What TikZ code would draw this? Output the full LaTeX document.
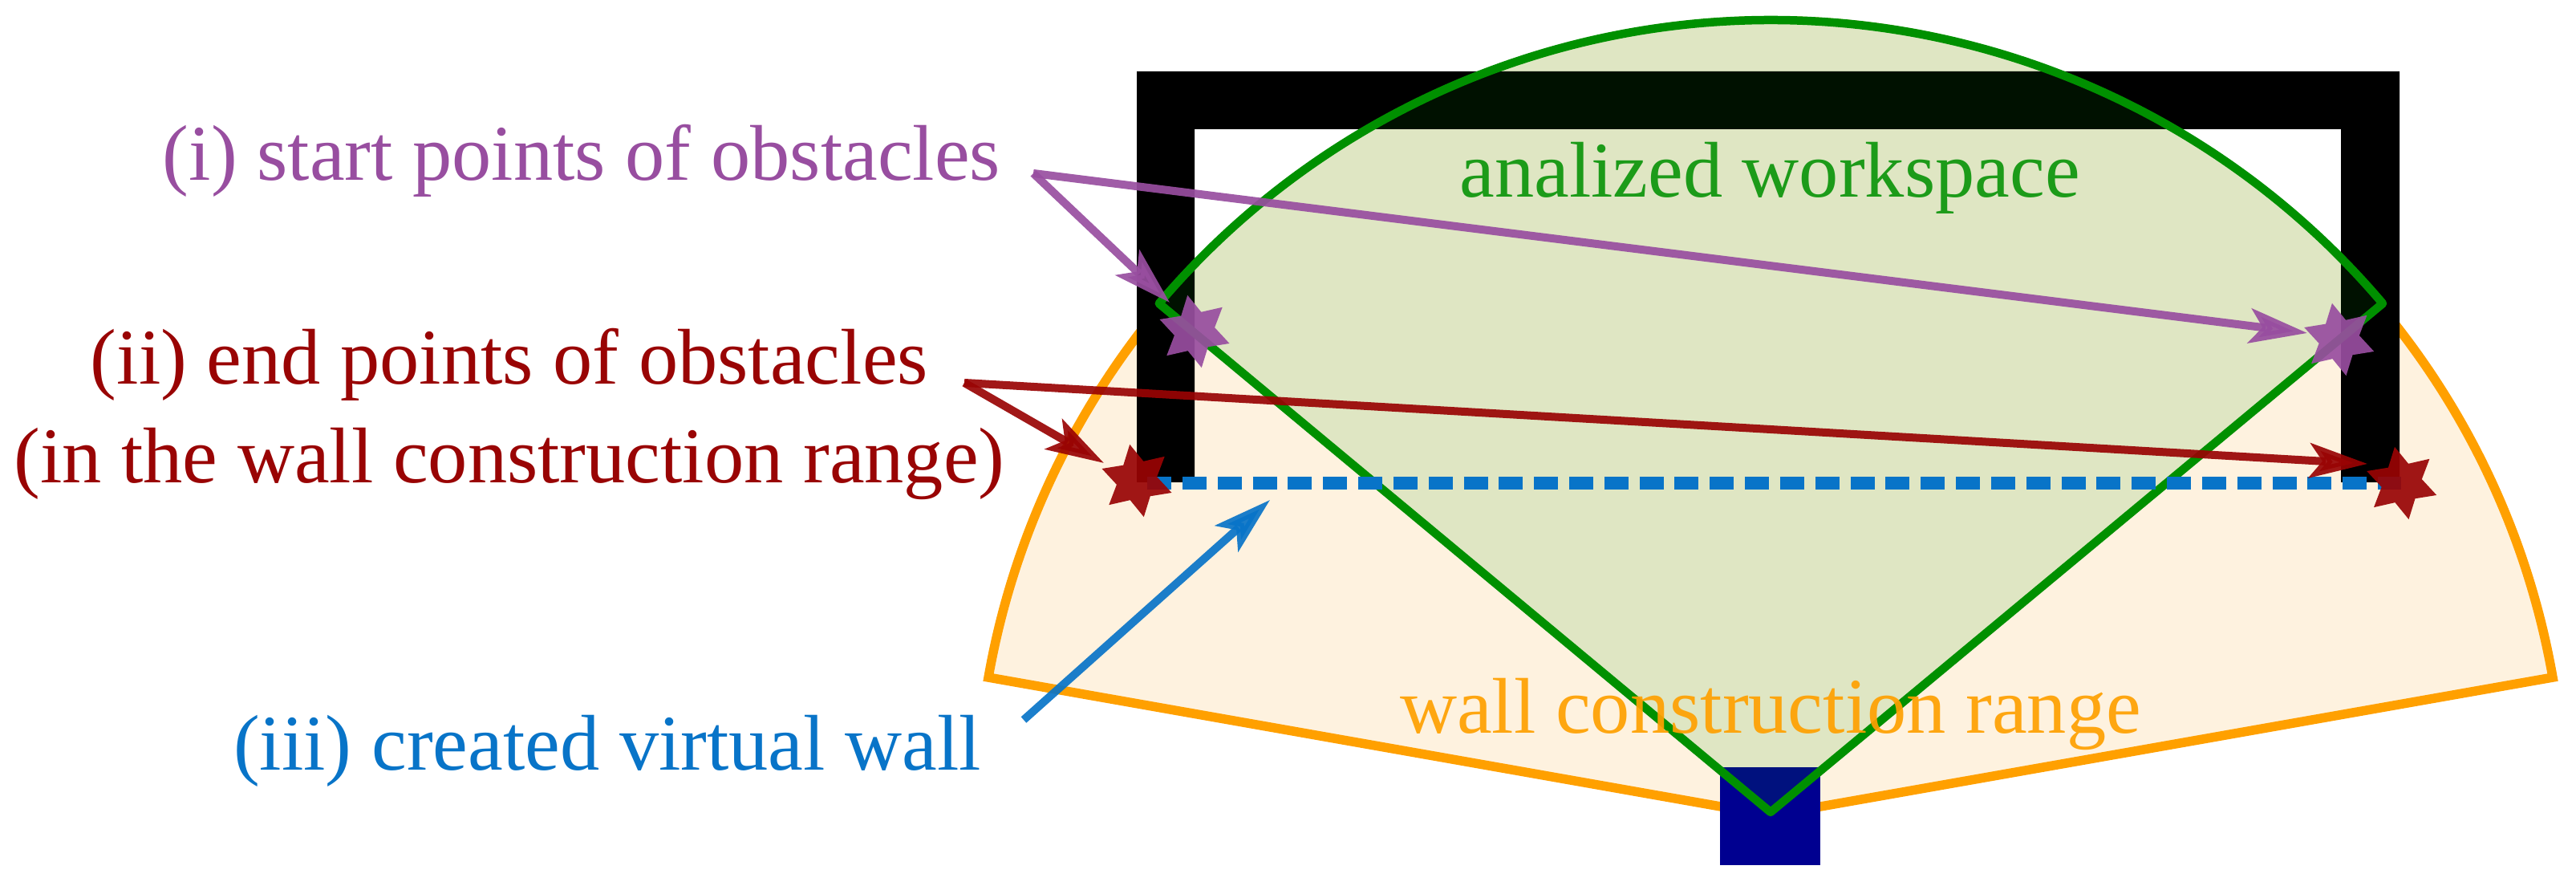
\documentclass[tikz,border=0pt]{standalone}
\usepackage{fontspec}
\setmainfont{Liberation Serif}
\usetikzlibrary{arrows.meta}
\usetikzlibrary{shapes.geometric}
\definecolor{rangeline}{RGB}{255,160,0}
\definecolor{rangefill}{RGB}{254,242,223}
\definecolor{workline}{RGB}{0,144,0}
\definecolor{startcol}{RGB}{152,78,160}
\definecolor{endcol}{RGB}{153,4,4}
\definecolor{wallcol}{RGB}{8,116,200}
\definecolor{robotcol}{RGB}{0,0,144}
\tikzset{
  pointer/.style={line width=1mm,opacity=.92,-{Stealth[length=7.2mm,width=4.3mm,inset=1.6mm]}},
  obstaclestar/.style={star,star points=6,star point ratio=1.8,shape border rotate=11,
    minimum size=9.2mm,inner sep=0pt,fill opacity=.92,draw=none},
  caption/.style={font=\fontsize{28pt}{35pt}\selectfont,align=center,inner sep=0pt}
}
\begin{document}
\begin{tikzpicture}
\useasboundingbox (0,0) rectangle (32.11,11.04);
% wall construction range
\filldraw[fill=rangefill,draw=rangeline,line width=1.15mm]
(22.07,0.88) -- ++(10:9.90) arc (10:170:9.90) -- cycle;
% analized workspace, base layer
\fill[rangefill] (22.07,0.92) -- (29.70,7.258) arc (40.3:139.7:10) -- cycle;
\fill[robotcol] (21.44,0.26) rectangle (22.69,1.48);
% obstacle
\fill[black] (14.17,5.03) -- (14.17,10.15) -- (29.91,10.15) -- (29.91,5.03)
-- (29.18,5.03) -- (29.18,9.43) -- (14.89,9.43) -- (14.89,5.03) -- cycle;
\filldraw[fill=workline,fill opacity=.12,draw=workline,line width=1.05mm,line join=round]
(22.07,0.92) -- (29.70,7.258) arc (40.3:139.7:10) -- cycle;
% virtual wall
\coordinate (wallA) at (14.30,5.015);
\coordinate (wallB) at (29.93,5.015);
\draw[wallcol,line width=1.6mm,dash pattern=on 3mm off 1.383mm] (wallA) -- (wallB);
% labels
\node[caption,text=startcol] (startlabel) at (7.25,9.04) {(i) start points of obstacles};
\node[caption,text=endcol] (endlabel) at (6.35,5.88) {(ii) end points of obstacles\\(in the wall construction range)};
\node[caption,text=wallcol] (walllabel) at (7.57,1.68) {(iii) created virtual wall};
\node[caption,text=workline,text opacity=.87] (worklabel) at (22.06,8.82) {analized workspace};
\node[caption,text=rangeline,text opacity=.92] (rangelabel) at (22.07,2.14) {wall construction range};
% points
\node[obstaclestar,fill=startcol] (startL) at (14.89,6.91) {};
\node[obstaclestar,fill=startcol] (startR) at (29.157,6.81) {};
\node[obstaclestar,fill=endcol] (endL) at (14.17,5.05) {};
\node[obstaclestar,fill=endcol] (endR) at (29.937,5.02) {};
% arrows
\coordinate (startsrc) at (12.88,8.88);
\coordinate (starttipL) at (14.58,7.27);
\coordinate (starttipR) at (28.76,6.89);
\coordinate (endsrc) at (12.02,6.27);
\coordinate (endtipL) at (13.76,5.27);
\coordinate (endtipR) at (29.51,5.26);
\coordinate (wallsrc) at (12.76,2.07);
\coordinate (walltip) at (15.83,4.81);
\draw[pointer,startcol] (startsrc) -- (starttipL);
\draw[pointer,startcol] (startsrc) -- (starttipR);
\draw[pointer,endcol] (endsrc) -- (endtipL);
\draw[pointer,endcol] (endsrc) -- (endtipR);
\draw[pointer,wallcol] (wallsrc) -- (walltip);
\end{tikzpicture}
\end{document}
